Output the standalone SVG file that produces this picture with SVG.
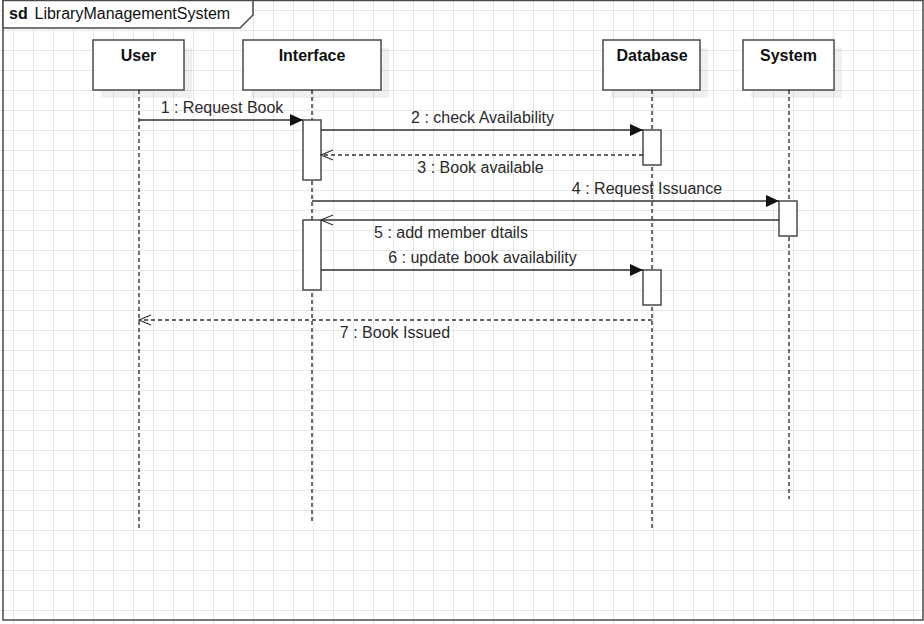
<svg xmlns="http://www.w3.org/2000/svg" width="924" height="624" viewBox="0 0 924 624">
  <defs>
    <marker id="solidHead" viewBox="0 0 13 12" refX="13" refY="6" markerWidth="13" markerHeight="12" markerUnits="userSpaceOnUse" orient="auto">
      <path d="M0 0 L13 6 L0 12 Z" fill="#111"/>
    </marker>
    <marker id="openHead" viewBox="-1 -1 14 12" refX="12" refY="5" markerWidth="14" markerHeight="12" markerUnits="userSpaceOnUse" orient="auto">
      <path d="M0 0 L12 5 L0 10" fill="none" stroke="#333" stroke-width="1.2"/>
    </marker>
    <style>
      .grid { stroke: #e6e6e6; stroke-width: 1; fill: none; }
      .head { fill: #fff; stroke: #4a4a4a; stroke-width: 1.5; }
      .shadow { fill: #000; fill-opacity: 0.06; }
      .headText { font-family: "Liberation Sans", Arial, sans-serif; font-size: 16px; font-weight: bold; fill: #111; text-anchor: middle; }
      .life { stroke: #111; stroke-width: 1.2; stroke-dasharray: 4 3; fill: none; }
      .act { fill: #fff; stroke: #4a4a4a; stroke-width: 1.5; }
      .msg { stroke: #333; stroke-width: 1.4; fill: none; }
      .call { marker-end: url(#solidHead); }
      .reply { marker-end: url(#openHead); }
      .dash { stroke-dasharray: 4 3; }
      .label { font-family: "Liberation Sans", Arial, sans-serif; font-size: 16px; fill: #2b2b2b; text-anchor: middle; }
      .frame { fill: none; stroke: #4a4a4a; stroke-width: 1.5; }
    </style>
  </defs>

  <!-- background grid: 20px cells -->
  <rect x="0" y="0" width="924" height="624" fill="#fff"/>
  <path class="grid" d="
    M13.5 0 V624 M33.5 0 V624 M53.5 0 V624 M73.5 0 V624 M93.5 0 V624
    M113.5 0 V624 M133.5 0 V624 M153.5 0 V624 M173.5 0 V624 M193.5 0 V624
    M213.5 0 V624 M233.5 0 V624 M253.5 0 V624 M273.5 0 V624 M293.5 0 V624
    M313.5 0 V624 M333.5 0 V624 M353.5 0 V624 M373.5 0 V624 M393.5 0 V624
    M413.5 0 V624 M433.5 0 V624 M453.5 0 V624 M473.5 0 V624 M493.5 0 V624
    M513.5 0 V624 M533.5 0 V624 M553.5 0 V624 M573.5 0 V624 M593.5 0 V624
    M613.5 0 V624 M633.5 0 V624 M653.5 0 V624 M673.5 0 V624 M693.5 0 V624
    M713.5 0 V624 M733.5 0 V624 M753.5 0 V624 M773.5 0 V624 M793.5 0 V624
    M813.5 0 V624 M833.5 0 V624 M853.5 0 V624 M873.5 0 V624 M893.5 0 V624
    M913.5 0 V624
    M0 10.5 H924 M0 30.5 H924 M0 50.5 H924 M0 70.5 H924 M0 90.5 H924
    M0 110.5 H924 M0 130.5 H924 M0 150.5 H924 M0 170.5 H924 M0 190.5 H924
    M0 210.5 H924 M0 230.5 H924 M0 250.5 H924 M0 270.5 H924 M0 290.5 H924
    M0 310.5 H924 M0 330.5 H924 M0 350.5 H924 M0 370.5 H924 M0 390.5 H924
    M0 410.5 H924 M0 430.5 H924 M0 450.5 H924 M0 470.5 H924 M0 490.5 H924
    M0 510.5 H924 M0 530.5 H924 M0 550.5 H924 M0 570.5 H924 M0 590.5 H924
    M0 610.5 H924"/>

  <!-- interaction frame -->
  <g id="frame">
    <rect class="frame" x="3" y="0.5" width="920" height="619.5"/>
    <path d="M3 0.5 H253 V15 L240 28 H3 Z" fill="#fff" stroke="#4a4a4a" stroke-width="1.5"/>
    <text x="9" y="19" font-family="'Liberation Sans', Arial, sans-serif" font-size="16" fill="#111"><tspan font-weight="bold">sd</tspan><tspan x="34.5">LibraryManagementSystem</tspan></text>
  </g>

  <!-- lifelines -->
  <g id="user">
    <rect class="shadow" x="101" y="48" width="91" height="50"/>
    <rect class="head" x="93" y="40" width="91" height="50"/>
    <text class="headText" x="138.5" y="61">User</text>
    <line class="life" x1="139" y1="90" x2="139" y2="529"/>
  </g>
  <g id="interface">
    <rect class="shadow" x="251" y="48" width="138" height="50"/>
    <rect class="head" x="243" y="40" width="138" height="50"/>
    <text class="headText" x="312" y="61">Interface</text>
    <line class="life" x1="312" y1="90" x2="312" y2="523"/>
  </g>
  <g id="database">
    <rect class="shadow" x="611" y="48" width="97" height="50"/>
    <rect class="head" x="603" y="40" width="97" height="50"/>
    <text class="headText" x="652" y="61">Database</text>
    <line class="life" x1="652" y1="90" x2="652" y2="529"/>
  </g>
  <g id="system">
    <rect class="shadow" x="751" y="48" width="91" height="50"/>
    <rect class="head" x="743" y="40" width="91" height="50"/>
    <text class="headText" x="788.5" y="61">System</text>
    <line class="life" x1="789" y1="90" x2="789" y2="499"/>
  </g>

  <!-- activation bars -->
  <g id="activations">
    <rect class="act" x="303" y="120" width="18" height="60"/>
    <rect class="act" x="643" y="130" width="18" height="35"/>
    <rect class="act" x="779" y="201" width="18" height="35"/>
    <rect class="act" x="303" y="220" width="18" height="70"/>
    <rect class="act" x="643" y="270" width="18" height="35"/>
  </g>

  <!-- messages -->
  <g id="connectors">
    <line class="msg call" x1="139" y1="120" x2="303" y2="120"/>
    <text class="label" x="222" y="113">1 : Request Book</text>

    <line class="msg call" x1="321" y1="130" x2="643" y2="130"/>
    <text class="label" x="482.5" y="123">2 : check Availability</text>

    <line class="msg reply dash" x1="643" y1="155" x2="321" y2="155"/>
    <text class="label" x="480.5" y="173">3 : Book available</text>

    <line class="msg call" x1="312" y1="201" x2="779" y2="201"/>
    <text class="label" x="647" y="194">4 : Request Issuance</text>

    <line class="msg reply" x1="779" y1="220" x2="321" y2="220"/>
    <text class="label" x="451" y="238">5 : add member dtails</text>

    <line class="msg call" x1="321" y1="270" x2="643" y2="270"/>
    <text class="label" x="482.5" y="263">6 : update book availability</text>

    <line class="msg reply dash" x1="652" y1="320" x2="139" y2="320"/>
    <text class="label" x="395" y="338">7 : Book Issued</text>
  </g>
</svg>
